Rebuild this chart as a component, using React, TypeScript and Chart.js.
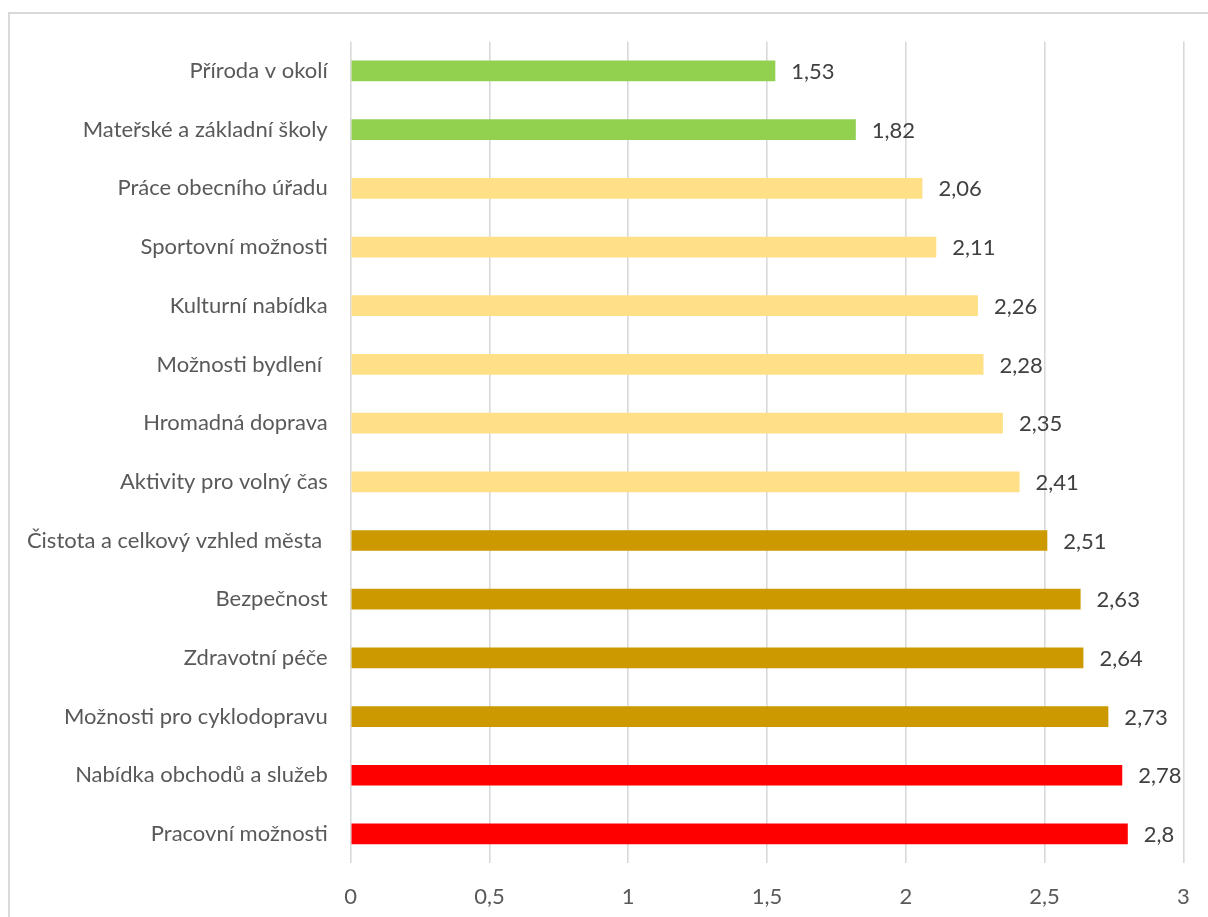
import React, { useEffect, useRef } from "react";
import { Chart, registerables } from "chart.js";

Chart.register(...registerables);

const categories = [
  "Příroda v okolí",
  "Mateřské a základní školy",
  "Práce obecního úřadu",
  "Sportovní možnosti",
  "Kulturní nabídka",
  "Možnosti bydlení ",
  "Hromadná doprava",
  "Aktivity pro volný čas",
  "Čistota a celkový vzhled města ",
  "Bezpečnost",
  "Zdravotní péče",
  "Možnosti pro cyklodopravu",
  "Nabídka obchodů a služeb",
  "Pracovní možnosti",
];

const values = [1.53, 1.82, 2.06, 2.11, 2.26, 2.28, 2.35, 2.41, 2.51, 2.63, 2.64, 2.73, 2.78, 2.8];

const barColors = [
  "#92D050", "#92D050",
  "#FFE086", "#FFE086", "#FFE086", "#FFE086", "#FFE086", "#FFE086",
  "#CC9900", "#CC9900", "#CC9900", "#CC9900",
  "#FF0000", "#FF0000",
];

const xMin = 0;
const xMax = 3;
const xStep = 0.5;

const FONT = "Lato, 'Noto Sans', sans-serif";
const FONT_SIZE = 22;

const fmt = (v: number) => String(v).replace(".", ",");

const valueLabels = {
  id: "valueLabels",
  afterDatasetsDraw(chart: any) {
    const ctx = chart.ctx;
    const meta = chart.getDatasetMeta(0);
    ctx.save();
    ctx.font = `${FONT_SIZE}px ${FONT}`;
    ctx.fillStyle = "#404040";
    ctx.textAlign = "left";
    ctx.textBaseline = "middle";
    meta.data.forEach((bar: any, i: number) => {
      ctx.fillText(fmt(values[i]), bar.x + 16, bar.y + 1);
    });
    ctx.restore();
  },
};

export default function App() {
  const ref = useRef<HTMLCanvasElement | null>(null);
  useEffect(() => {
    if (!ref.current) return;
    const chart = new Chart(ref.current, {
      type: "bar",
      data: {
        labels: categories,
        datasets: [
          {
            data: values,
            backgroundColor: barColors,
            borderWidth: 0,
            barPercentage: 0.353,
            categoryPercentage: 1,
          },
        ],
      },
      options: {
        indexAxis: "y",
        animation: false,
        responsive: false,
        maintainAspectRatio: false,
        layout: { padding: { top: 27.6, right: 24.7, bottom: 10, left: 0 } },
        plugins: {
          legend: { display: false },
          tooltip: { enabled: false },
        },
        scales: {
          x: {
            min: xMin,
            max: xMax,
            ticks: {
              stepSize: xStep,
              color: "#595959",
              font: { family: FONT, size: FONT_SIZE },
              padding: 20,
              maxRotation: 0,
              callback: (v: any) => fmt(Number(v)),
            },
            grid: { color: "#D9D9D9", lineWidth: 1.6, drawTicks: false },
            border: { display: false },
            afterFit: (scale: any) => {
              scale.height = 43.7;
              scale.paddingLeft = 0;
              scale.paddingRight = 0;
            },
          },
          y: {
            ticks: {
              color: "#595959",
              font: { family: FONT, size: FONT_SIZE },
              padding: 23,
            },
            grid: { display: false, drawTicks: false },
            border: { display: false },
            afterFit: (scale: any) => {
              scale.width = 340.7;
              scale.paddingTop = 0;
              scale.paddingBottom = 0;
            },
          },
        },
      },
      plugins: [valueLabels],
    });
    return () => chart.destroy();
  }, []);

  return (
    <div
      style={{
        position: "fixed",
        left: 8,
        top: 12,
        width: 1200,
        height: 905,
        borderLeft: "2px solid #D9D9D9",
        borderTop: "2px solid #D9D9D9",
        background: "#fff",
        overflow: "hidden",
      }}
    >
      <canvas ref={ref} width={1198} height={903} style={{ display: "block" }} />
    </div>
  );
}
